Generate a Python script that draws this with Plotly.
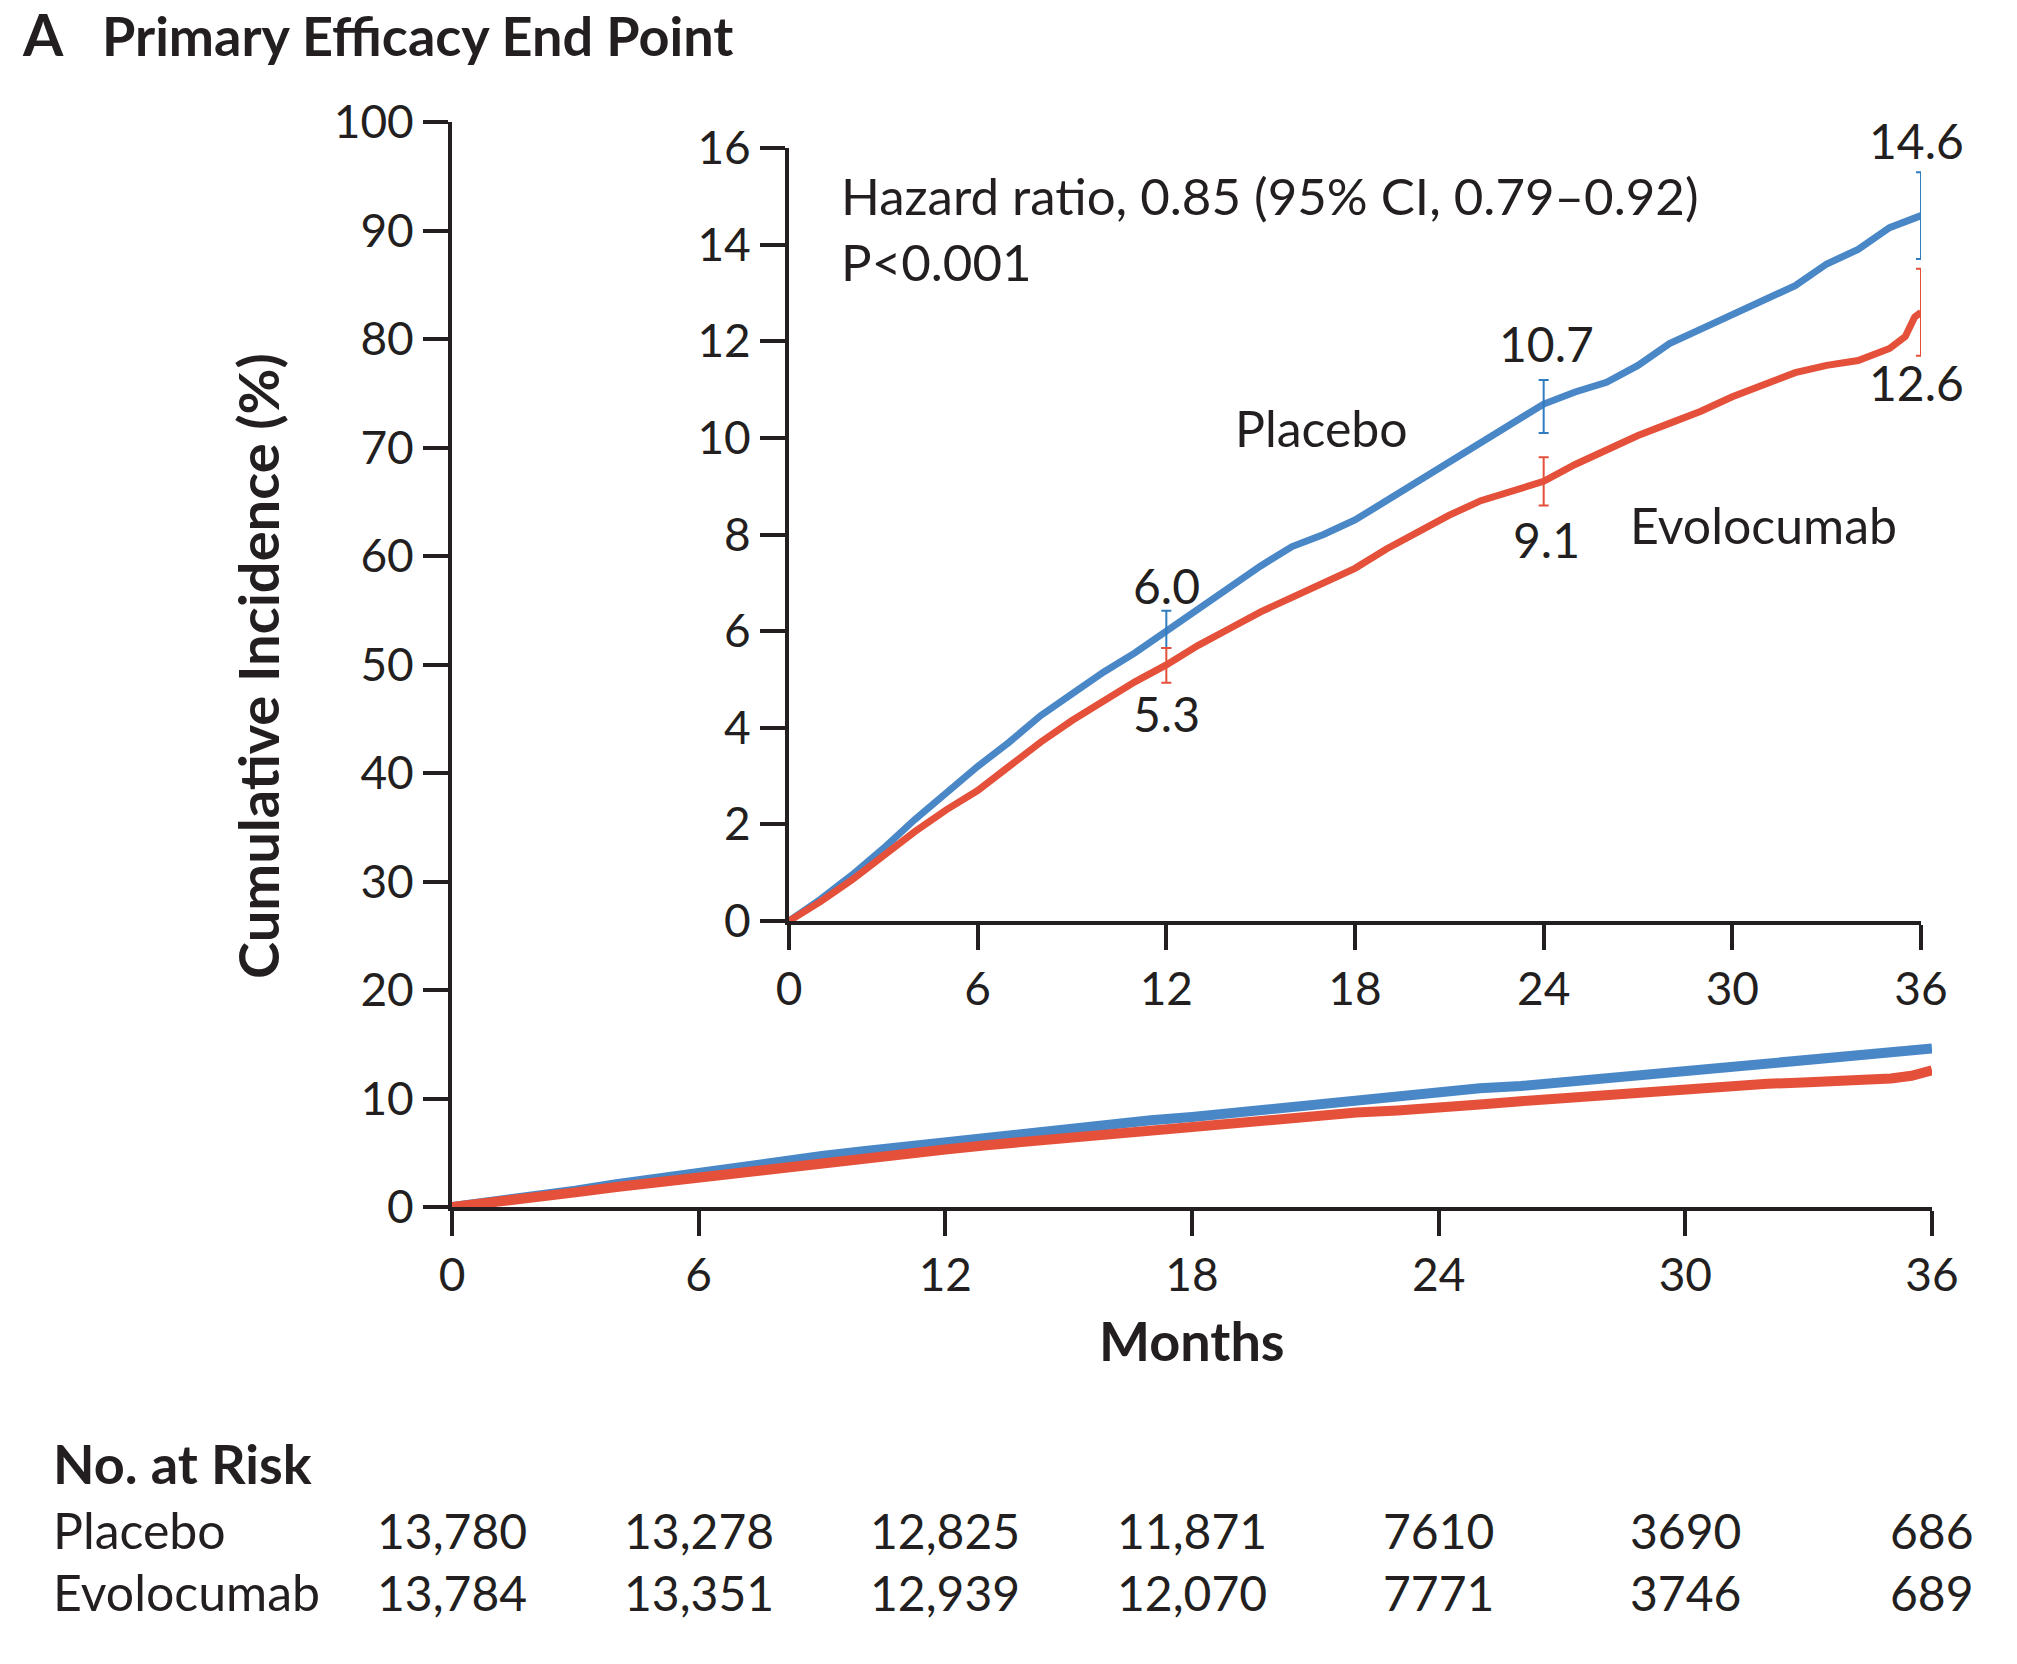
import plotly.graph_objects as go

W, H = 2017, 1664
FONT = "Lato"
INK = "#231f20"
BLUE = "#4a87c7"
RED = "#e4503a"

# Kaplan-Meier cumulative incidence (%)
months = list(range(0, 37))
placebo = [0, 0.45, 0.95, 1.5, 2.1, 2.65, 3.2, 3.7, 4.25, 4.7, 5.15, 5.55, 6.0,
           6.45, 6.9, 7.35, 7.75, 8.0, 8.3, 8.7, 9.1, 9.5, 9.9, 10.3, 10.7,
           10.95, 11.15, 11.5, 11.95, 12.25, 12.55, 12.85, 13.15, 13.6, 13.9,
           14.35, 14.6]
evo_months = months[:36] + [35.5, 35.8, 36]
evolocumab = [0, 0.4, 0.85, 1.35, 1.85, 2.3, 2.7, 3.2, 3.7, 4.15, 4.55, 4.95,
              5.3, 5.7, 6.05, 6.4, 6.7, 7.0, 7.3, 7.7, 8.05, 8.4, 8.7, 8.9,
              9.1, 9.45, 9.75, 10.05, 10.3, 10.55, 10.85, 11.1, 11.35, 11.5,
              11.6, 11.85, 12.1, 12.5, 12.6]

# 95% CI bars at 12, 24, 36 months
ci_months = [12, 24, 36]
placebo_est = [6.0, 10.7, 14.6]
placebo_hi = [6.42, 11.2, 15.5]
placebo_lo = [5.65, 10.1, 13.7]
evo_est = [5.3, 9.1, 12.6]
evo_hi = [5.65, 9.6, 13.5]
evo_lo = [4.93, 8.6, 11.7]

# number at risk
risk_months = [0, 6, 12, 18, 24, 30, 36]
risk_placebo = ["13,780", "13,278", "12,825", "11,871", "7610", "3690", "686"]
risk_evo = ["13,784", "13,351", "12,939", "12,070", "7771", "3746", "689"]

main_ticks_y = list(range(0, 101, 10))
inset_ticks_y = list(range(0, 17, 2))
x_ticks = [0, 6, 12, 18, 24, 30, 36]


def fx(px):
    return px / W


def fy(py):
    return 1 - py / H


fig = go.Figure()

# main panel
fig.add_trace(go.Scatter(x=months, y=placebo, mode="lines",
                         line=dict(color=BLUE, width=10), xaxis="x", yaxis="y",
                         showlegend=False, hoverinfo="skip"))
fig.add_trace(go.Scatter(x=evo_months, y=evolocumab, mode="lines",
                         line=dict(color=RED, width=10), xaxis="x", yaxis="y",
                         showlegend=False, hoverinfo="skip"))

# inset panel
fig.add_trace(go.Scatter(x=months, y=placebo, mode="lines",
                         line=dict(color=BLUE, width=7), xaxis="x2", yaxis="y2",
                         showlegend=False, hoverinfo="skip"))
fig.add_trace(go.Scatter(x=evo_months, y=evolocumab, mode="lines",
                         line=dict(color=RED, width=7), xaxis="x2", yaxis="y2",
                         showlegend=False, hoverinfo="skip"))

for est, hi, lo, col in [(placebo_est, placebo_hi, placebo_lo, "#2f7dbf"),
                         (evo_est, evo_hi, evo_lo, RED)]:
    fig.add_trace(go.Scatter(
        x=ci_months, y=est, mode="markers", marker=dict(size=1, opacity=0),
        error_y=dict(type="data", symmetric=False,
                     array=[h - e for h, e in zip(hi, est)],
                     arrayminus=[e - l for e, l in zip(est, lo)],
                     color=col, thickness=2, width=5),
        xaxis="x2", yaxis="y2", showlegend=False, hoverinfo="skip"))

axis_common = dict(showline=True, linecolor=INK, linewidth=4, ticks="outside",
                   tickcolor=INK, tickwidth=4, ticklen=25, showgrid=False,
                   zeroline=False, automargin=False,
                   tickfont=dict(family=FONT, size=46, color=INK))

fig.update_layout(
    width=W, height=H,
    margin=dict(l=0, r=0, t=0, b=0, pad=0),
    paper_bgcolor="white", plot_bgcolor="rgba(0,0,0,0)",
    font=dict(family=FONT, color=INK),
    xaxis=dict(domain=[fx(452), fx(1932)], range=[0, 36], tickvals=x_ticks,
               anchor="y", **axis_common),
    yaxis=dict(domain=[fy(1207), fy(122)], range=[0, 100],
               tickvals=main_ticks_y, anchor="x", **axis_common),
    xaxis2=dict(domain=[fx(789), fx(1921)], range=[0, 36], tickvals=x_ticks,
                anchor="y2", **axis_common),
    yaxis2=dict(domain=[fy(921), fy(148)], range=[0, 16],
                tickvals=inset_ticks_y, anchor="x2", **axis_common),
)

ann = []
ann.append(dict(text="<b>A</b>", x=fx(20), y=fy(34), xref="paper", yref="paper",
                xanchor="left", yanchor="middle", showarrow=False,
                font=dict(size=58, family=FONT, color=INK)))
ann.append(dict(text="<b>Primary Efficacy End Point</b>", x=fx(100), y=fy(35),
                xref="paper", yref="paper", xanchor="left", yanchor="middle",
                showarrow=False, font=dict(size=54, family=FONT, color=INK)))
ann.append(dict(text="<b>Cumulative Incidence (%)</b>", x=fx(257), y=fy(666),
                xref="paper", yref="paper", xanchor="center", yanchor="middle",
                textangle=-90, showarrow=False,
                font=dict(size=56, family=FONT, color=INK)))
ann.append(dict(text="<b>Months</b>", x=18, y=fy(1340), xref="x", yref="paper",
                xanchor="center", yanchor="middle", showarrow=False,
                font=dict(size=54, family=FONT, color=INK)))

# inset labels
inset_labels = [
    ("6.0", 12, 6.95, 48), ("5.3", 12, 4.3, 48), ("10.7", 24.1, 11.95, 48),
    ("9.1", 24.1, 7.9, 48), ("12.6", 35.85, 11.15, 48),
    ("Placebo", 16.95, 10.2, 50), ("Evolocumab", 31.0, 8.2, 50),
]
for txt, xv, yv, size in inset_labels:
    ann.append(dict(text=txt, x=xv, y=yv, xref="x2", yref="y2",
                    xanchor="center", yanchor="middle", showarrow=False,
                    font=dict(size=size, family=FONT, color=INK)))
# sits above the top of the inset range, so place it in paper units
ann.append(dict(text="14.6", x=35.85, y=fy(141), xref="x2", yref="paper",
                xanchor="center", yanchor="middle", showarrow=False,
                font=dict(size=48, family=FONT, color=INK)))
ann.append(dict(text="Hazard ratio, 0.85 (95% CI, 0.79\u20130.92)<br>P<0.001",
                x=1.6, y=15.68, xref="x2", yref="y2", xanchor="left",
                yanchor="top", align="left", showarrow=False,
                font=dict(size=51, family=FONT, color=INK)))

# number at risk table
ann.append(dict(text="<b>No. at Risk</b>", x=fx(51), y=fy(1463), xref="paper",
                yref="paper", xanchor="left", yanchor="middle", showarrow=False,
                font=dict(size=54, family=FONT, color=INK)))
for label, row, ypx in [("Placebo", risk_placebo, 1530),
                        ("Evolocumab", risk_evo, 1592)]:
    ann.append(dict(text=label, x=fx(51), y=fy(ypx), xref="paper", yref="paper",
                    xanchor="left", yanchor="middle", showarrow=False,
                    font=dict(size=50, family=FONT, color=INK)))
    for m, val in zip(risk_months, row):
        ann.append(dict(text=val, x=m, y=fy(ypx), xref="x", yref="paper",
                        xanchor="center", yanchor="middle", showarrow=False,
                        font=dict(size=48, family=FONT, color=INK)))

fig.update_layout(annotations=ann)

fig.write_html("out.html", config={"displayModeBar": False},
               post_script="document.body.style.margin='0';")
